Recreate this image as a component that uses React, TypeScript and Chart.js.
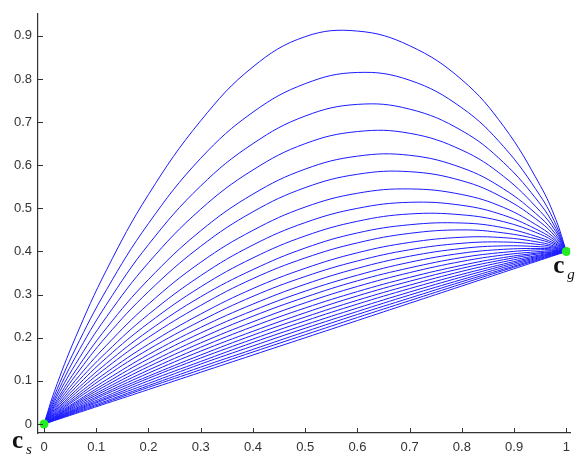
import React, { useEffect, useRef } from "react";
import { Chart, registerables } from "chart.js";

Chart.register(...registerables);

// sample abscissae shared by all curves
const xValues = [0, 0.02, 0.06, 0.12, 0.2, 0.3, 0.4, 0.5, 0.6, 0.7, 0.8, 0.88, 0.95, 0.98, 1];

// curve ordinates (top curve first)
const curve01 = [0, 0.076, 0.200, 0.358, 0.532, 0.703, 0.828, 0.898, 0.911, 0.877, 0.798, 0.690, 0.553, 0.474, 0.4];
const curve02 = [0, 0.066, 0.174, 0.312, 0.465, 0.616, 0.723, 0.789, 0.815, 0.797, 0.733, 0.643, 0.529, 0.462, 0.4];
const curve03 = [0, 0.058, 0.155, 0.278, 0.416, 0.552, 0.650, 0.714, 0.741, 0.730, 0.680, 0.606, 0.510, 0.453, 0.4];
const curve04 = [0, 0.052, 0.138, 0.249, 0.374, 0.498, 0.589, 0.650, 0.678, 0.674, 0.635, 0.574, 0.493, 0.446, 0.4];
const curve05 = [0, 0.046, 0.123, 0.223, 0.335, 0.448, 0.533, 0.591, 0.621, 0.623, 0.594, 0.545, 0.479, 0.439, 0.4];
const curve06 = [0, 0.042, 0.112, 0.204, 0.307, 0.412, 0.492, 0.548, 0.579, 0.585, 0.564, 0.524, 0.468, 0.433, 0.4];
const curve07 = [0, 0.038, 0.101, 0.183, 0.278, 0.375, 0.449, 0.503, 0.535, 0.545, 0.532, 0.502, 0.456, 0.428, 0.4];
const curve08 = [0, 0.034, 0.092, 0.167, 0.254, 0.344, 0.415, 0.467, 0.500, 0.514, 0.507, 0.484, 0.447, 0.424, 0.4];
const curve09 = [0, 0.031, 0.084, 0.154, 0.234, 0.318, 0.385, 0.436, 0.470, 0.487, 0.485, 0.469, 0.440, 0.420, 0.4];
const curve10 = [0, 0.028, 0.077, 0.141, 0.216, 0.295, 0.358, 0.408, 0.443, 0.462, 0.466, 0.455, 0.432, 0.417, 0.4];
const curve11 = [0, 0.026, 0.071, 0.131, 0.201, 0.275, 0.337, 0.385, 0.420, 0.442, 0.450, 0.443, 0.427, 0.414, 0.4];
const curve12 = [0, 0.024, 0.065, 0.120, 0.185, 0.255, 0.314, 0.361, 0.397, 0.421, 0.433, 0.432, 0.421, 0.411, 0.4];
const curve13 = [0, 0.022, 0.060, 0.112, 0.173, 0.239, 0.296, 0.342, 0.378, 0.404, 0.419, 0.422, 0.416, 0.409, 0.4];
const curve14 = [0, 0.020, 0.056, 0.103, 0.161, 0.224, 0.278, 0.324, 0.361, 0.389, 0.407, 0.413, 0.411, 0.407, 0.4];
const curve15 = [0, 0.019, 0.051, 0.096, 0.151, 0.211, 0.263, 0.308, 0.345, 0.375, 0.396, 0.405, 0.407, 0.405, 0.4];
const curve16 = [0, 0.017, 0.048, 0.090, 0.141, 0.199, 0.250, 0.294, 0.332, 0.362, 0.386, 0.398, 0.404, 0.403, 0.4];
const curve17 = [0, 0.016, 0.045, 0.084, 0.133, 0.188, 0.237, 0.281, 0.319, 0.351, 0.377, 0.392, 0.400, 0.402, 0.4];
const curve18 = [0, 0.015, 0.042, 0.079, 0.125, 0.178, 0.226, 0.269, 0.307, 0.340, 0.368, 0.386, 0.397, 0.400, 0.4];
const curve19 = [0, 0.014, 0.039, 0.074, 0.118, 0.169, 0.215, 0.258, 0.297, 0.331, 0.361, 0.381, 0.395, 0.399, 0.4];
const curve20 = [0, 0.013, 0.036, 0.070, 0.111, 0.160, 0.206, 0.248, 0.287, 0.322, 0.354, 0.376, 0.392, 0.398, 0.4];
const curve21 = [0, 0.012, 0.034, 0.065, 0.106, 0.153, 0.197, 0.239, 0.278, 0.314, 0.347, 0.371, 0.390, 0.397, 0.4];
const curve22 = [0, 0.011, 0.032, 0.061, 0.100, 0.145, 0.189, 0.230, 0.269, 0.306, 0.341, 0.367, 0.388, 0.396, 0.4];
const curve23 = [0, 0.010, 0.030, 0.058, 0.094, 0.139, 0.181, 0.222, 0.261, 0.299, 0.335, 0.363, 0.386, 0.395, 0.4];
const curve24 = [0, 0.009, 0.028, 0.054, 0.089, 0.132, 0.173, 0.214, 0.254, 0.292, 0.330, 0.359, 0.384, 0.394, 0.4];
const curve25 = [0, 0.009, 0.026, 0.051, 0.085, 0.126, 0.167, 0.207, 0.247, 0.286, 0.325, 0.356, 0.382, 0.393, 0.4];
const straightLine = [0, 0.008, 0.024, 0.048, 0.080, 0.120, 0.160, 0.200, 0.240, 0.280, 0.320, 0.352, 0.380, 0.392, 0.4];

const curves = [
  curve01, curve02, curve03, curve04, curve05, curve06, curve07, curve08, curve09, curve10,
  curve11, curve12, curve13, curve14, curve15, curve16, curve17, curve18, curve19, curve20,
  curve21, curve22, curve23, curve24, curve25, straightLine,
];

// start and goal points
const endpointX = [0, 1];
const endpointY = [0, 0.4];

// axis ticks
const xTicks = [0, 0.1, 0.2, 0.3, 0.4, 0.5, 0.6, 0.7, 0.8, 0.9, 1];
const yTicks = [0, 0.1, 0.2, 0.3, 0.4, 0.5, 0.6, 0.7, 0.8, 0.9];

const AXIS_COLOR = "#333333";
const LINE_COLOR = "#1a1aff";

const fmt = (v: number) => String(Number(v.toFixed(1)));

const overlayPlugin = {
  id: "overlay",
  afterDatasetsDraw(chart: any) {
    const { ctx, chartArea, scales } = chart;
    const xs = scales.x;
    const ys = scales.y;
    ctx.save();
    // inward tick marks
    ctx.strokeStyle = AXIS_COLOR;
    ctx.lineWidth = 1;
    ctx.beginPath();
    xTicks.forEach((v) => {
      const px = Math.round(xs.getPixelForValue(v)) + 0.5;
      ctx.moveTo(px, chartArea.bottom);
      ctx.lineTo(px, chartArea.bottom - 5);
    });
    yTicks.forEach((v) => {
      const py = Math.round(ys.getPixelForValue(v)) + 0.5;
      ctx.moveTo(chartArea.left, py);
      ctx.lineTo(chartArea.left + 5, py);
    });
    ctx.stroke();

    // point labels
    ctx.fillStyle = "#111111";
    ctx.textBaseline = "alphabetic";
    ctx.textAlign = "left";
    const sx = xs.getPixelForValue(endpointX[0]);
    const sy = ys.getPixelForValue(endpointY[0]);
    ctx.font = 'bold 25px "Liberation Serif", "DejaVu Serif", serif';
    ctx.fillText("c", sx - 32, sy + 24);
    ctx.font = 'italic 15px "Liberation Serif", "DejaVu Serif", serif';
    ctx.fillText("s", sx - 18, sy + 30);

    const gx = xs.getPixelForValue(endpointX[1]);
    const gy = ys.getPixelForValue(endpointY[1]);
    ctx.font = 'bold 25px "Liberation Serif", "DejaVu Serif", serif';
    ctx.fillText("c", gx - 13, gy + 22);
    ctx.font = 'italic 15px "Liberation Serif", "DejaVu Serif", serif';
    ctx.fillText("g", gx + 1, gy + 28);
    ctx.restore();
  },
};

export default function App() {
  const canvasRef = useRef<HTMLCanvasElement | null>(null);

  useEffect(() => {
    if (!canvasRef.current) return;
    const datasets: any[] = curves.map((ys) => ({
      data: xValues.map((x, i) => ({ x, y: ys[i] })),
      showLine: true,
      borderColor: LINE_COLOR,
      borderWidth: 1,
      pointRadius: 0,
      tension: 0.4,
      fill: false,
      order: 2,
    }));
    datasets.push({
      data: endpointX.map((x, i) => ({ x, y: endpointY[i] })),
      showLine: false,
      pointRadius: 4.5,
      pointBackgroundColor: "#22ee22",
      pointBorderWidth: 0,
      order: 0,
    });

    const chart = new Chart(canvasRef.current, {
      type: "scatter",
      data: { datasets },
      plugins: [overlayPlugin],
      options: {
        animation: false,
        responsive: false,
        maintainAspectRatio: false,
        layout: { padding: { left: 0, right: 5, top: 12, bottom: 0 } },
        plugins: { legend: { display: false }, tooltip: { enabled: false } },
        scales: {
          x: {
            type: "linear",
            min: -0.0115,
            max: 1.0076,
            afterBuildTicks: (scale: any) => {
              scale.ticks = xTicks.map((v) => ({ value: v }));
            },
            afterFit: (scale: any) => {
              scale.height = 28;
            },
            grid: { drawOnChartArea: false, drawTicks: false },
            border: { display: true, color: AXIS_COLOR, width: 1.2 },
            ticks: {
              padding: 7,
              color: "#333333",
              font: { family: '"Liberation Sans", Arial, sans-serif', size: 13 },
              callback: (v: any) => fmt(Number(v)),
              maxRotation: 0,
              autoSkip: false,
            },
          },
          y: {
            type: "linear",
            min: -0.0208,
            max: 0.951,
            afterBuildTicks: (scale: any) => {
              scale.ticks = yTicks.map((v) => ({ value: v }));
            },
            afterFit: (scale: any) => {
              scale.width = 38;
            },
            grid: { drawOnChartArea: false, drawTicks: false },
            border: { display: true, color: AXIS_COLOR, width: 1.2 },
            ticks: {
              padding: 6,
              color: "#333333",
              font: { family: '"Liberation Sans", Arial, sans-serif', size: 13 },
              callback: (v: any) => fmt(Number(v)),
              autoSkip: false,
            },
          },
        },
      },
    });
    return () => chart.destroy();
  }, []);

  return (
    <div style={{ position: "fixed", left: 0, top: 0, width: 577, height: 461, background: "#ffffff" }}>
      <canvas ref={canvasRef} width={577} height={461} style={{ display: "block" }} />
    </div>
  );
}
